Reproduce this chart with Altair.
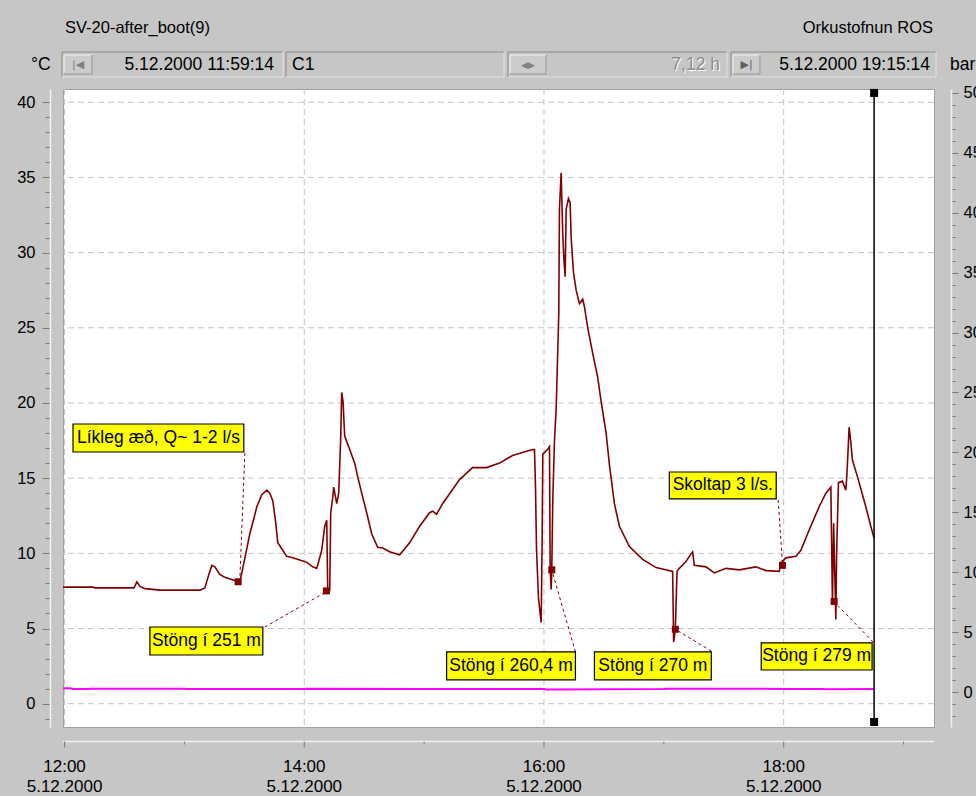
import altair as alt
import pandas as pd

# ---------------- data (times as minutes after 12:00 on 5.12.2000) ----------------
temp_min = [-0.77, 14.25, 15.25, 32.75, 34.75, 36.25, 37.75, 40.25, 47.75, 67.75, 70.25, 72.25,
            73.75, 75.25, 77.75, 80.25, 85.25, 87.75, 88.75, 90.75, 92.75, 94.75, 96.25, 98.75,
            101.25, 102.75, 104.25, 105.75, 106.75, 108.75, 111.25, 114.25, 117.75, 121.25, 124.25,
            126.25, 128.75, 130.25, 131.25, 131.75, 132.75, 133.25, 134.25, 134.75, 136.25, 137.25,
            138.25, 138.75, 139.5, 139.75, 140.25, 142.75, 145.25, 146.75, 148.75, 151.25, 153.75,
            156.75, 159.25, 162.75, 167.75, 172.75, 177.75, 182.75, 184.25, 186.25, 189.25, 197.75,
            204.25, 211.25, 217.75, 224.25, 234.25, 235.25, 235.75, 236.25, 237.25, 238.6, 239.1,
            239.4, 241.75, 242.75, 243.1, 243.6, 243.9, 244.4, 245.25, 246.1, 247.4, 247.75, 248.6,
            249.4, 250.0, 250.6, 251.1, 252.25, 253.1, 253.6, 254.75, 256.1, 257.75, 259.4, 260.25,
            261.9, 264.4, 266.9, 268.6, 271.1, 272.75, 275.25, 277.75, 282.75, 289.4, 296.1, 304.4,
            304.9, 305.75, 306.6, 307.75, 311.1, 312.75, 314.4, 315.25, 321.1, 325.25, 331.1, 337.75,
            346.1, 351.1, 357.75, 358.6, 361.1, 366.1, 368.6, 372.75, 377.75, 381.1, 383.6, 384.4,
            385.0, 386.1, 386.5, 387.4, 389.4, 391.1, 391.75, 392.75, 393.5, 394.4, 396.9, 401.1,
            403.6, 405.25]
temp_val = [7.75, 7.75, 7.7, 7.7, 7.7, 8.1, 7.8, 7.65, 7.55, 7.55, 7.7, 8.6,
            9.2, 9.1, 8.6, 8.4, 8.2, 8.1, 8.7, 10.0, 11.3, 12.3, 13.1, 13.9,
            14.2, 14.0, 13.5, 12.0, 10.7, 10.3, 9.8, 9.7, 9.55, 9.4, 9.1,
            9.0, 10.2, 11.8, 12.2, 7.6, 7.55, 12.7, 13.7, 14.4, 13.3, 14.0,
            17.7, 20.7, 20.0, 19.1, 17.8, 16.9, 16.0, 15.1, 14.0, 12.7, 11.3,
            10.4, 10.35, 10.1, 9.9, 10.7, 11.8, 12.7, 12.8, 12.6, 13.3, 14.9,
            15.7, 15.7, 16.0, 16.5, 16.9, 16.9, 14.5, 10.3, 7.0, 5.4, 11.2,
            16.6, 16.9, 17.1, 8.9, 7.6, 8.9, 13.5, 17.5, 19.6, 25.9, 32.9, 35.3,
            31.2, 29.5, 28.4, 32.9, 33.6, 33.3, 31.0, 28.7, 27.5, 26.6, 26.9, 26.4,
            25.0, 23.3, 21.7, 20.1, 18.0, 15.9, 13.3, 11.8, 10.45, 9.6, 9.05, 8.8,
            4.1, 4.95, 8.8, 9.0, 9.45, 9.8, 10.1, 9.2, 9.1, 8.7, 9.0, 8.9,
            9.1, 8.85, 8.8, 9.35, 9.7, 9.8, 10.2, 11.55, 13.1, 14.0, 14.4, 6.7,
            12.0, 5.6, 10.0, 14.7, 14.8, 14.2, 15.5, 18.4, 17.5, 16.2, 15.1, 13.1,
            11.8, 11.0]

# second channel (bar, right axis)
press_min = [-0.77, 3.0, 4.0, 12.0, 13.0, 60.0, 61.0, 120.0, 121.0, 180.0, 240.0, 241.0,
             300.0, 301.0, 360.0, 380.0, 381.0, 405.25]
press_val = [0.32, 0.32, 0.25, 0.25, 0.28, 0.28, 0.25, 0.25, 0.28, 0.26, 0.26, 0.22,
             0.25, 0.28, 0.26, 0.26, 0.24, 0.26]

# event markers on the temperature curve
event_min = [86.9, 131.1, 243.9, 305.75, 359.4, 385.25]
event_val = [8.11, 7.5, 8.9, 4.95, 9.2, 6.8]

# annotation labels
ann_text = ["Líkleg æð, Q~ 1-2 l/s", "Stöng í 251 m", "Stöng í 260,4 m",
            "Stöng í 270 m", "Skoltap 3 l/s.", "Stöng í 279 m"]
ann_left = [4.25, 42.75, 191.25, 265.25, 302.75, 348.75]
ann_right = [89.75, 99.25, 255.75, 323.75, 356.25, 404.25]
ann_top = [18.60, 5.10, 3.44, 3.44, 15.41, 4.04]
ann_bottom = [16.74, 3.24, 1.58, 1.58, 13.62, 2.24]
lead_from_min = [90.25, 100.25, 255.75, 323.75, 357.25, 404.75]
lead_from_val = [16.68, 5.10, 3.44, 3.50, 13.55, 4.10]
lead_to_min = [87.75, 131.1, 243.9, 305.75, 359.4, 385.25]
lead_to_val = [8.23, 7.45, 8.9, 4.95, 9.23, 6.78]

# cursor
cursor_min = [405.25, 405.25]
cursor_val = [40.62, -1.22]

# axis tick / grid values
hour_ticks_min = [0, 60, 120, 180, 240, 300, 360, 420]
label_hours_min = [0, 120, 240, 360]
temp_ticks = list(range(-1, 41))
temp_grid = list(range(0, 41, 5))
bar_ticks = list(range(-2, 51))

# ---------------- helpers ----------------
BASE = pd.Timestamp("2000-12-05 12:00:00")


def to_time(mins):
    return [BASE + pd.Timedelta(minutes=m) for m in mins]


def DT(h, m=0, s=0):
    return alt.DateTime(year=2000, month=12, date=5, hours=h, minutes=m, seconds=s)


temp_df = pd.DataFrame({"t": to_time(temp_min), "v": temp_val})
press_df = pd.DataFrame({"t": to_time(press_min), "b": press_val})
event_df = pd.DataFrame({"t": to_time(event_min), "v": event_val})
ann_df = pd.DataFrame({
    "text": ann_text,
    "l": to_time(ann_left), "r": to_time(ann_right),
    "top": ann_top, "bot": ann_bottom,
    "c": to_time([(a + b) / 2 for a, b in zip(ann_left, ann_right)]),
    "m": [(a + b) / 2 for a, b in zip(ann_top, ann_bottom)],
})
lead_df = pd.DataFrame({
    "t1": to_time(lead_from_min), "v1": lead_from_val,
    "t2": to_time(lead_to_min), "v2": lead_to_val,
})
cursor_df = pd.DataFrame({"t": to_time(cursor_min), "v": cursor_val})
ticks_df = pd.DataFrame({"t": to_time(hour_ticks_min)})
ticks_df["major"] = [m % 120 == 0 for m in hour_ticks_min]
xlab_df = pd.DataFrame({"t": to_time(label_hours_min)})
xlab_df["hm"] = [t.strftime("%H:%M") for t in xlab_df["t"]]
xlab_df["day"] = [f"{t.day}.{t.month}.{t.year}" for t in xlab_df["t"]]
ygrid_df = pd.DataFrame({"v": temp_grid})
one = pd.DataFrame({"k": [0]})

FONT = "Liberation Sans"
GLYPH = "DejaVu Sans"
BG = "#c6c6c6"
DARK_RED = "#800000"
GRID = "#c4c4c4"
TICK = "#7a7a7a"

XS = alt.Scale(domain=[DT(11, 59, 14), DT(19, 15, 14)])
YS = alt.Scale(domain=[-1.55, 40.88], nice=False, zero=False)
YR = alt.Scale(domain=[-2.92, 50.33], nice=False, zero=False)

yaxis = alt.Axis(
    title=None, orient="left", offset=13, values=temp_ticks, grid=False,
    labelExpr="datum.value % 5 === 0 ? datum.label : ''",
    labelFont=FONT, labelFontSize=16.5, labelColor="black", labelPadding=7,
    labelOverlap=False, labelBound=False, labelFlush=False,
    tickSize={"condition": {"test": "datum.value % 5 === 0", "value": 8}, "value": 5},
    tickColor=TICK, domainColor="#f2f2f2", domainWidth=1.5,
)
raxis = alt.Axis(
    title=None, orient="right", offset=17, values=bar_ticks, grid=False,
    labelExpr="datum.value % 5 === 0 ? datum.label : ''",
    labelFont=FONT, labelFontSize=16.5, labelColor="black", labelPadding=5,
    labelOverlap=False, labelBound=False, labelFlush=False,
    tickSize={"condition": {"test": "datum.value % 5 === 0", "value": 7}, "value": 4},
    tickColor=TICK, domainColor="#f2f2f2", domainWidth=1.5,
)

# ---------------- data layers ----------------
xgrid = alt.Chart(xlab_df).mark_rule(color=GRID, strokeDash=[6, 4], strokeWidth=1).encode(
    x=alt.X("t:T", scale=XS, axis=None),
)
ygrid = alt.Chart(ygrid_df).mark_rule(color=GRID, strokeDash=[6, 4], strokeWidth=1).encode(
    y=alt.Y("v:Q", scale=YS, axis=None),
)
temp_line = alt.Chart(temp_df).mark_line(color=DARK_RED, strokeWidth=1.6).encode(
    x=alt.X("t:T", scale=XS, axis=None),
    y=alt.Y("v:Q", scale=YS, axis=yaxis),
)
leaders = alt.Chart(lead_df).mark_rule(color=DARK_RED, strokeDash=[3, 3], strokeWidth=1).encode(
    x=alt.X("t1:T", scale=XS, axis=None), x2="t2:T",
    y=alt.Y("v1:Q", scale=YS, axis=None), y2="v2:Q",
)
events = alt.Chart(event_df).mark_square(color=DARK_RED, size=49, opacity=1).encode(
    x=alt.X("t:T", scale=XS, axis=None),
    y=alt.Y("v:Q", scale=YS, axis=None),
)
boxes = alt.Chart(ann_df).mark_rect(fill="#ffff00", stroke="black", strokeWidth=1.2).encode(
    x=alt.X("l:T", scale=XS, axis=None), x2="r:T",
    y=alt.Y("top:Q", scale=YS, axis=None), y2="bot:Q",
)
labels = alt.Chart(ann_df).mark_text(font=FONT, fontSize=17.5, color="black").encode(
    x=alt.X("c:T", scale=XS, axis=None),
    y=alt.Y("m:Q", scale=YS, axis=None),
    text="text:N",
)
cursor_line = alt.Chart(cursor_df).mark_line(color="black", strokeWidth=1.5).encode(
    x=alt.X("t:T", scale=XS, axis=None),
    y=alt.Y("v:Q", scale=YS, axis=None),
)
cursor_ends = alt.Chart(cursor_df).mark_square(color="black", size=64, opacity=1).encode(
    x=alt.X("t:T", scale=XS, axis=None),
    y=alt.Y("v:Q", scale=YS, axis=None),
)
press_line = alt.Chart(press_df).mark_line(color="#ff00ff", strokeWidth=2).encode(
    x=alt.X("t:T", scale=XS, axis=None),
    y=alt.Y("b:Q", scale=YR, axis=raxis),
)

# ---------------- time axis (detached below the plot, as in the logger window) ----------------
X_AXIS_Y = 652.5  # pixel row of the time axis line, relative to plot top
x_domain_line = alt.Chart(one).mark_rule(color="#f2f2f2", strokeWidth=1.5).encode(
    x=alt.value(0), x2=alt.value(871), y=alt.value(X_AXIS_Y))
x_ticks_major = alt.Chart(ticks_df).transform_filter("datum.major").mark_rule(
    color=TICK, strokeWidth=1).encode(
    x=alt.X("t:T", scale=XS, axis=None), y=alt.value(X_AXIS_Y), y2=alt.value(X_AXIS_Y + 6))
x_ticks_minor = alt.Chart(ticks_df).transform_filter("!datum.major").mark_rule(
    color=TICK, strokeWidth=1).encode(
    x=alt.X("t:T", scale=XS, axis=None), y=alt.value(X_AXIS_Y), y2=alt.value(X_AXIS_Y + 3))
x_lab1 = alt.Chart(xlab_df).mark_text(font=FONT, fontSize=17, color="black",
                                      baseline="middle").encode(
    x=alt.X("t:T", scale=XS, axis=None), y=alt.value(X_AXIS_Y + 25), text="hm:N")
x_lab2 = alt.Chart(xlab_df).mark_text(font=FONT, fontSize=17, color="black",
                                      baseline="middle").encode(
    x=alt.X("t:T", scale=XS, axis=None), y=alt.value(X_AXIS_Y + 45), text="day:N")


# ---------------- window chrome (pixel positions relative to plot origin) ----------------
def prect(x1, y1, x2, y2, **kw):
    return alt.Chart(one).mark_rect(**kw).encode(
        x=alt.value(x1), x2=alt.value(x2), y=alt.value(y1), y2=alt.value(y2))


def pline(x1, y1, x2, y2, color):
    return alt.Chart(one).mark_rule(color=color, strokeWidth=1).encode(
        x=alt.value(x1), x2=alt.value(x2), y=alt.value(y1), y2=alt.value(y2))


def ptext(x, y, text, align="left", size=17.5, color="black", font=FONT):
    return alt.Chart(one).mark_text(text=text, align=align, baseline="middle",
                                    fontSize=size, color=color, font=font).encode(
        x=alt.value(x), y=alt.value(y))


chrome = []
for (x1, x2) in [(-1, 220), (223, 441), (445, 664), (668, 873)]:
    chrome.append(prect(x1, -37, x2, -12, fill=BG, stroke="#8a8a8a", strokeWidth=1))
    chrome.append(pline(x1, -12, x2, -12, "#ffffff"))
    chrome.append(pline(x2, -37, x2, -12, "#ffffff"))
for (x1, x2) in [(1, 29), (447, 483), (670, 697)]:
    chrome.append(prect(x1, -34, x2, -15, fill="#cccccc", stroke="#f4f4f4", strokeWidth=1))
    chrome.append(pline(x1, -15, x2, -15, "#808080"))
    chrome.append(pline(x2, -34, x2, -15, "#808080"))
chrome += [
    ptext(2, -61, "SV-20-after_boot(9)", size=16.5),
    ptext(870, -61, "Orkustofnun ROS", align="right", size=16.5),
    ptext(-32, -24.5, "°C"),
    ptext(887, -24.5, "bar"),
    ptext(211, -24.5, "5.12.2000 11:59:14", align="right"),
    ptext(229, -24.5, "C1"),
    ptext(658, -23.5, "7,12 h", align="right", color="#ffffff"),
    ptext(657, -24.5, "7,12 h", align="right", color="#8c8c8c"),
    ptext(867, -24.5, "5.12.2000 19:15:14", align="right"),
    ptext(15, -24.5, "|◀", align="center", size=11, color="#808080", font=GLYPH),
    ptext(465, -24.5, "◀▶", align="center", size=9, color="#808080", font=GLYPH),
    ptext(683.5, -24.5, "▶|", align="center", size=11, color="#606060", font=GLYPH),
]

chart = alt.layer(
    xgrid, ygrid, temp_line, press_line, leaders, cursor_line, boxes, labels, events,
    cursor_ends, x_domain_line, x_ticks_major, x_ticks_minor, x_lab1, x_lab2, *chrome
).resolve_scale(
    y="independent"
).properties(
    width=871, height=638,
    autosize=alt.AutoSizeParams(type="none"),
    padding={"left": 63, "top": 89, "right": 42, "bottom": 69},
    background=BG,
).configure_view(
    fill="white", stroke="#a0a0a0", strokeWidth=1,
)

chart.save("out.html", embed_options={"renderer": "svg", "actions": False})
